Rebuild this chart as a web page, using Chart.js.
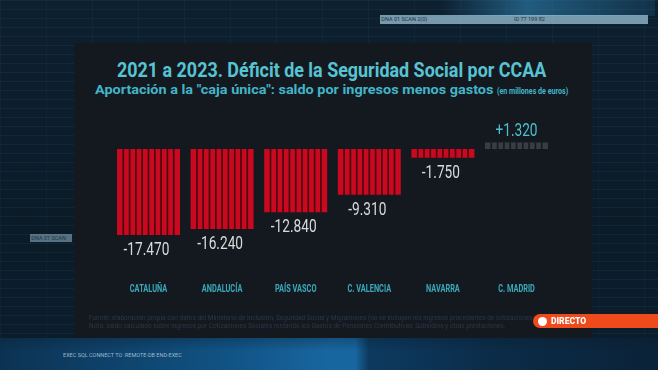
<!DOCTYPE html>
<html lang="es">
<head>
<meta charset="UTF-8">
<title>Déficit de la Seguridad Social por CCAA</title>
<script src="https://cdn.jsdelivr.net/npm/chart.js@4"></script>
<style>
  body {
    margin: 0; width: 658px; height: 370px; overflow: hidden; position: relative;
    font-family: Roboto, "Liberation Sans", sans-serif;
    background:
      repeating-linear-gradient(0deg, rgba(90,150,190,0.08) 0 1px, transparent 1px 9px),
      repeating-linear-gradient(90deg, rgba(90,150,190,0.05) 0 1px, transparent 1px 46px),
      linear-gradient(180deg, #0d2030 0%, #0b1b28 60%, #0b1d2c 100%);
  }
  #brillo { position: absolute; left: 440px; top: 0; width: 215px; height: 16px;
    background: linear-gradient(90deg, rgba(40,120,170,0), rgba(50,140,190,0.55) 40%, rgba(40,120,170,0.2)); }
  #suelo { position: absolute; left: 0; top: 338px; width: 658px; height: 32px;
    background:
      linear-gradient(180deg, rgba(11,27,40,0.3), rgba(11,27,40,0) 40%),
      linear-gradient(90deg, #0c3252 0%, #115385 35%, #1866a0 50%, #1766a0 54%, #0d3a60 56%, #0b2c48 75%, #0b2238 100%); }
  #panel { position: absolute; left: 74px; top: 43px; width: 518px; height: 295px; background: #141920; }
  .texto { position: absolute; white-space: nowrap; font-weight: bold; transform-origin: 0 0; }
  #titulo { left: 117px; top: 58px; font-size: 21px; line-height: 24px; color: #57c4d3; }
  #sub { left: 95px; top: 81px; font-size: 13.5px; line-height: 16px; color: #42b5c8; }
  #unid { left: 497px; top: 85px; font-size: 9px; line-height: 12px; color: #42b5c8; }
  #grafico { position: absolute; left: 0; top: 0; }
  .fuente { position: absolute; left: 89px; font-size: 6.5px; color: #283747; white-space: nowrap; }
  #directo { position: absolute; left: 533px; top: 314px; width: 140px; height: 14px; border-radius: 7px 0 0 7px;
    background: #ee4a1c; color: #fff; font-size: 9.5px; line-height: 14px; font-weight: bold; }
  #directo i { position: absolute; left: 5px; top: 2.5px; width: 9px; height: 9px; border-radius: 50%; background: #fff; }
  #directo b { position: absolute; left: 18px; transform: scaleX(0.9); transform-origin: left; }
  .deco { position: absolute; font-size: 5.5px; white-space: nowrap; }
</style>
</head>
<body>
<div id="brillo"></div>
<div id="suelo"></div>
<div class="deco" style="left:380px; top:15px; width:268px; height:9px; background:rgba(165,205,225,0.7); color:#1d3444; line-height:9px;">&nbsp;DNA 01 SCAN 2(0)<span style="position:absolute; left:134px;">ID 77 199 82</span></div>
<div class="deco" style="left:30px; top:234px; width:42px; height:8px; background:rgba(160,200,220,0.5); color:#1d3444; line-height:8px;">&nbsp;DNA 01 SCAN</div>
<div class="deco" style="left:63px; top:352px; color:#9ab8ca;">EXEC SQL CONNECT TO :REMOTE-DB END-EXEC</div>
<div id="panel"></div>
<div id="titulo" class="texto" data-w="429">2021 a 2023. Déficit de la Seguridad Social por CCAA</div>
<div id="sub" class="texto" data-w="398">Aportación a la &quot;caja única&quot;: saldo por ingresos menos gastos</div>
<div id="unid" class="texto" data-w="71">(en millones de euros)</div>
<canvas id="grafico" width="658" height="370"></canvas>
<div class="fuente" style="top:314px;">Fuente: elaboración propia con datos del Ministerio de Inclusión, Seguridad Social y Migraciones (no se incluyen los ingresos procedentes de cotizaciones de 2023).</div>
<div class="fuente" style="top:322px;">Nota: saldo calculado sobre ingresos por Cotizaciones Sociales restando los Gastos de Pensiones Contributivas, Subsidios y otras prestaciones.</div>
<div id="directo"><i></i><b>DIRECTO</b></div>
<script>
// saldo 2021-2023 por comunidad, millones de euros
const regiones = ['CATALUÑA', 'ANDALUCÍA', 'PAÍS VASCO', 'C. VALENCIA', 'NAVARRA', 'C. MADRID'];
const saldos = [-17470, -16240, -12840, -9310, -1750, 1320];

// textos del rótulo estrechados al ancho del original
document.querySelectorAll('.texto').forEach(el => {
    el.style.transform = 'scaleX(' + (el.dataset.w / el.offsetWidth) + ')';
});

function formato(v) {
    const s = Math.abs(v).toString().replace(/\B(?=(\d{3})+(?!\d))/g, '.');
    return (v < 0 ? '-' : '+') + s;
}

// rayas de las barras, cifras y nombres de las comunidades
const rotulos = {
    id: 'rotulos',
    afterDatasetsDraw(chart) {
        const ctx = chart.ctx;
        const meta = chart.getDatasetMeta(0);
        meta.data.forEach((bar, i) => {
            const p = bar.getProps(['x', 'y', 'base', 'width'], true);
            const left = p.x - p.width / 2;
            const top = Math.min(p.y, p.base);
            const h = Math.abs(p.base - p.y);
            ctx.save();
            ctx.fillStyle = saldos[i] < 0 ? 'rgba(45,6,14,0.85)' : '#141920';
            for (let k = 1; k < 10; k++) {
                ctx.fillRect(left + k * p.width / 10 - 0.8, top, 1.6, h);
            }
            ctx.font = '18px Roboto';
            ctx.textAlign = 'center';
            ctx.fillStyle = saldos[i] < 0 ? '#dadada' : '#4dc0d0';
            ctx.translate(p.x - (saldos[i] < 0 ? 2 : 0), saldos[i] < 0 ? p.y + 20 : p.y - 7);
            ctx.scale(0.76, 1);
            ctx.fillText(formato(saldos[i]), 0, 0);
            ctx.restore();
        });

        const x = chart.scales.x;
        regiones.forEach((r, i) => {
            ctx.save();
            ctx.font = 'bold 11px Roboto';
            ctx.textAlign = 'center';
            ctx.fillStyle = '#3aa9bb';
            ctx.translate(x.getPixelForValue(i), chart.chartArea.bottom + 15);
            ctx.scale(0.67, 1);
            ctx.fillText(r, 0, 0);
            ctx.restore();
        });
    }
};

const ctx = document.getElementById('grafico');
const grafico = new Chart(ctx, {
    type: 'bar',
    data: {
        labels: regiones,
        datasets: [{
            data: saldos,
            backgroundColor: saldos.map(v => v < 0 ? '#c8091f' : '#383d45'),
            borderWidth: 0,
            categoryPercentage: 1,
            barPercentage: 0.856
        }]
    },
    options: {
        responsive: false,
        devicePixelRatio: 1,
        animation: false,
        layout: {
            padding: { left: 111.7, right: 104.7, top: 119.5, bottom: 93 }
        },
        scales: {
            x: { display: false },
            y: { display: false, min: -26000, max: 6000 }
        },
        plugins: {
            legend: { display: false },
            tooltip: { enabled: false }
        }
    },
    plugins: [rotulos]
});
</script>
</body>
</html>
